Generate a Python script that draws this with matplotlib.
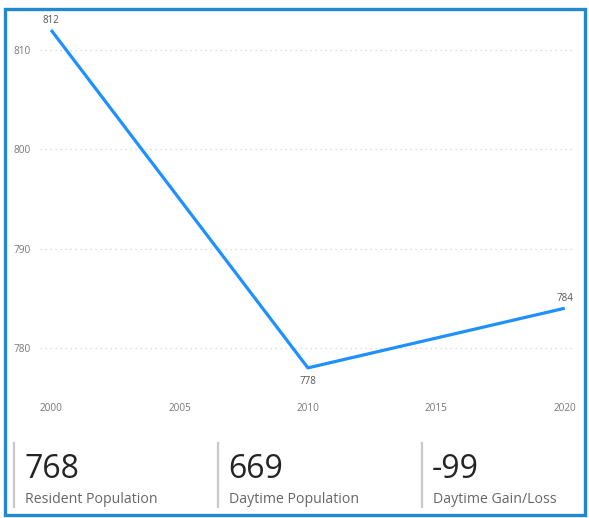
import matplotlib.pyplot as plt
from matplotlib.patches import Rectangle
from matplotlib.lines import Line2D

years = [2000, 2010, 2020]
population = [812, 778, 784]
x_ticks = [2000, 2005, 2010, 2015, 2020]
y_ticks = [780, 790, 800, 810]

card_values = ["768", "669", "-99"]
card_labels = ["Resident Population", "Daytime Population", "Daytime Gain/Loss"]

plt.rcParams['font.family'] = ['Open Sans', 'DejaVu Sans']

W, H = 589, 518
fig = plt.figure(figsize=(W / 100, H / 100), dpi=100)


def fx(px):
    return px / W


def fy(py):
    return 1 - py / H


# line chart area
ax = fig.add_axes([fx(40), fy(395), fx(575) - fx(40), fy(20) - fy(395)])
ax.plot(years, population, color='#1E90FF', linewidth=2.3, solid_capstyle='butt')
ax.set_xlim(1999.57, 2020.4)
ax.set_ylim(775.27, 813.0)
ax.set_xticks(x_ticks)
ax.set_yticks(y_ticks)
ax.tick_params(length=0, labelsize=7.2, labelcolor='#777777')
ax.tick_params(axis='y', pad=7)
ax.tick_params(axis='x', pad=6)
ax.grid(axis='y', linestyle=(0, (1, 3)), color='#d0d0d0', linewidth=0.9)
ax.grid(axis='x', visible=False)
for s in ax.spines.values():
    s.set_visible(False)

for i, (x, y) in enumerate(zip(years, population)):
    below = i > 0 and i < len(years) - 1 and y < population[i - 1]
    ax.annotate(str(y), (x, y), xytext=(0, -10 if below else 7), textcoords='offset points',
                ha='center', va='center', fontsize=7, color='#555555')

# cards
for i, (v, lab) in enumerate(zip(card_values, card_labels)):
    left = 14 + i * 204
    fig.add_artist(Line2D([fx(left), fx(left)], [fy(443), fy(507)], color='#c8c8c8', linewidth=1.6))
    fig.text(fx(left + 10), fy(478), v, fontsize=23, color='#252423', ha='left', va='baseline')
    fig.text(fx(left + 11), fy(503), lab, fontsize=10.2, color='#666666', ha='left', va='baseline')

# outer frame
fig.add_artist(Rectangle((fx(5), fy(515)), fx(585) - fx(5), fy(9) - fy(515), fill=False,
                         edgecolor='#2388D0', linewidth=2.4, transform=fig.transFigure))

fig.savefig('out.png', dpi=100)
